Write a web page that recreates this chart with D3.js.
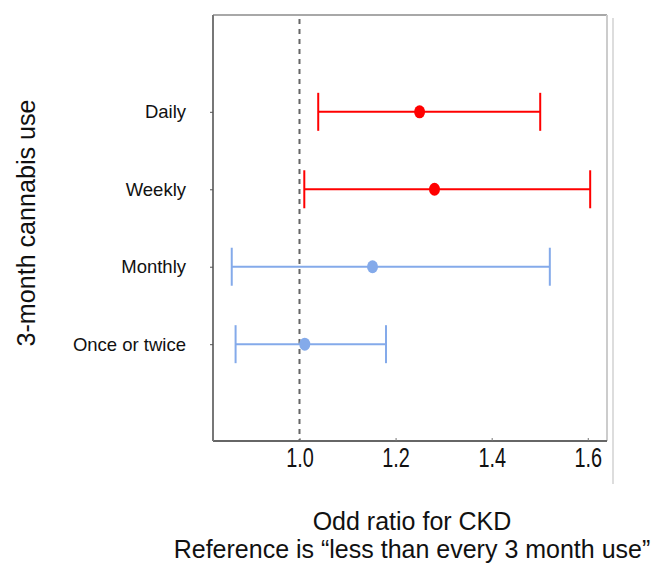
<!DOCTYPE html>
<html lang="en">
<head>
<meta charset="UTF-8">
<title>Odds ratio for CKD</title>
<script src="https://d3js.org/d3.v7.min.js"></script>
<style>
  body { margin: 0; background: #fff; }
  text { font-family: "Liberation Sans", Arial, sans-serif; fill: #111; }
</style>
</head>
<body>
<script>
// data
const categories = ["Daily", "Weekly", "Monthly", "Once or twice"];
const oddsRatio = [1.25, 1.281, 1.152, 1.011];
const lowerCI = [1.039, 1.01, 0.859, 0.867];
const upperCI = [1.501, 1.605, 1.521, 1.18];
const groupColor = ["#ff0000", "#ff0000", "#84aaea", "#84aaea"];
const xTicks = [1.0, 1.2, 1.4, 1.6];

const W = 664, H = 563;
const plotL = 213, plotR = 607, plotT = 15, plotB = 441;

const svg = d3.select("body").append("svg")
    .attr("width", W)
    .attr("height", H);

const x = d3.scaleLinear()
    .domain([0.82, 1.64])
    .range([plotL, plotR]);

const y = d3.scalePoint()
    .domain(categories)
    .range([plotT, plotB])
    .padding(1.25);

// frame
svg.append("line").attr("x1", plotL).attr("x2", plotR).attr("y1", plotT).attr("y2", plotT)
    .attr("stroke", "#a8a8a8").attr("stroke-width", 2);
svg.append("line").attr("x1", plotR).attr("x2", plotR).attr("y1", plotT).attr("y2", plotB)
    .attr("stroke", "#cccccc").attr("stroke-width", 2);
svg.append("line").attr("x1", 613).attr("x2", 613).attr("y1", 18).attr("y2", 484)
    .attr("stroke", "#bbbbbb").attr("stroke-width", 1);

// x axis
const xAxis = svg.append("g")
    .attr("transform", `translate(0,${plotB})`)
    .call(d3.axisBottom(x).tickValues(xTicks).tickFormat(d3.format(".1f")).tickSize(-3).tickPadding(0));
xAxis.select(".domain").attr("stroke", "#666").attr("stroke-width", 2)
    .attr("d", `M${plotL},0H${plotR}`);
xAxis.selectAll(".tick line").attr("stroke", "#777");
xAxis.selectAll(".tick text").remove();
xAxis.selectAll(".tick").append("text")
    .attr("transform", "translate(0,26) scale(0.71,1)")
    .attr("text-anchor", "middle")
    .attr("font-size", 28)
    .style("fill", "#111")
    .text(d => d3.format(".1f")(d));

// y axis
const yAxis = svg.append("g")
    .attr("transform", `translate(${plotL},0)`)
    .call(d3.axisLeft(y).tickSize(3).tickPadding(24));
yAxis.select(".domain").attr("stroke", "#777").attr("stroke-width", 2)
    .attr("d", `M0,${plotT}V${plotB}`);
yAxis.selectAll(".tick line").attr("stroke", "#555");
yAxis.selectAll(".tick text").attr("font-size", 18.5).style("fill", "#111");

// reference line at OR = 1
svg.append("line")
    .attr("x1", x(1)).attr("x2", x(1))
    .attr("y1", plotT + 4).attr("y2", plotB)
    .attr("stroke", "#666")
    .attr("stroke-width", 2)
    .attr("stroke-dasharray", "5,5");

// error bars
const rows = categories.map((c, i) => ({ c, or: oddsRatio[i], lo: lowerCI[i], hi: upperCI[i], col: groupColor[i] }));
const cap = 19;

const g = svg.selectAll("g.row")
    .data(rows)
    .enter().append("g")
    .attr("class", "row");

g.append("line")
    .attr("x1", d => x(d.lo)).attr("x2", d => x(d.hi))
    .attr("y1", d => y(d.c)).attr("y2", d => y(d.c))
    .attr("stroke", d => d.col).attr("stroke-width", 2);
g.append("line")
    .attr("x1", d => x(d.lo)).attr("x2", d => x(d.lo))
    .attr("y1", d => y(d.c) - cap).attr("y2", d => y(d.c) + cap)
    .attr("stroke", d => d.col).attr("stroke-width", 2);
g.append("line")
    .attr("x1", d => x(d.hi)).attr("x2", d => x(d.hi))
    .attr("y1", d => y(d.c) - cap).attr("y2", d => y(d.c) + cap)
    .attr("stroke", d => d.col).attr("stroke-width", 2);
g.append("ellipse")
    .attr("cx", d => x(d.or)).attr("cy", d => y(d.c))
    .attr("rx", 5.5).attr("ry", 6.5)
    .attr("fill", d => d.col);

// axis titles
svg.append("text")
    .attr("transform", "translate(35,223) rotate(-90)")
    .attr("text-anchor", "middle")
    .attr("font-size", 25)
    .attr("textLength", 247)
    .attr("lengthAdjust", "spacingAndGlyphs")
    .text("3-month cannabis use");

svg.append("text")
    .attr("x", 412).attr("y", 530)
    .attr("text-anchor", "middle")
    .attr("font-size", 25)
    .text("Odd ratio for CKD");
svg.append("text")
    .attr("x", 412).attr("y", 558)
    .attr("text-anchor", "middle")
    .attr("font-size", 25)
    .text("Reference is \u201cless than every 3 month use\u201d");
</script>
</body>
</html>
